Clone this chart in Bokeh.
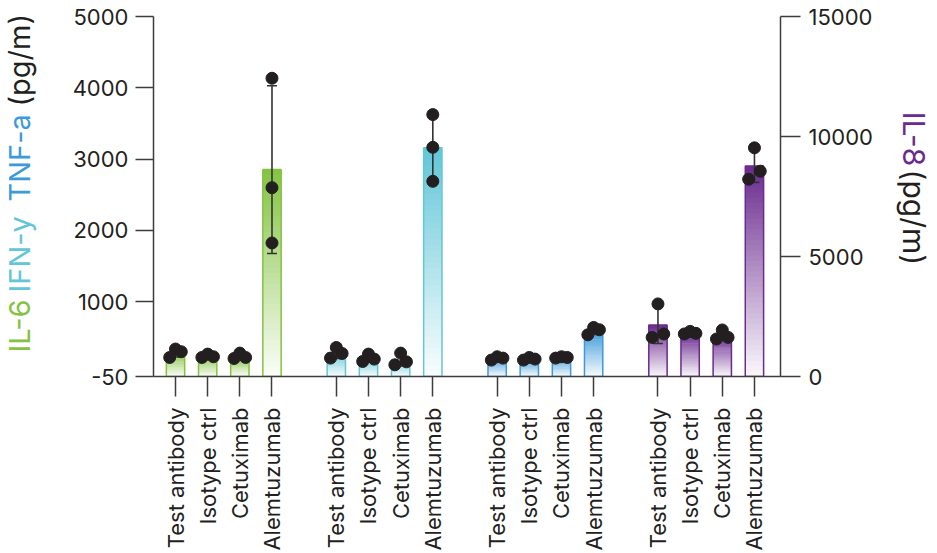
import numpy as np
from math import pi
from bokeh.plotting import figure
from bokeh.layouts import row
from bokeh.models import Range1d, LinearAxis, FixedTicker
from bokeh.core.properties import value
from bokeh.embed import file_html
from bokeh.resources import INLINE

# ---------------- data ----------------
treatments = ["Test antibody", "Isotype ctrl", "Cetuximab", "Alemtuzumab"]
cytokines = ["IL-6", "IFN-y", "TNF-a", "IL-8"]
il6 = [[217, 335, 297], [217, 264, 227], [203, 278, 217], [4134, 2599, 1823]]
ifng = [[208, 357, 273], [161, 264, 194], [114, 278, 156], [3624, 3165, 2688]]
tnfa = [[180, 227, 208], [180, 217, 194], [208, 227, 217], [535, 638, 606]]
il8 = [[1630, 3025, 1772], [1772, 1880, 1797], [1563, 1939, 1630], [8220, 9528, 8554]]
left_ticks = [-50, 1000, 2000, 3000, 4000, 5000]
right_ticks = [0, 5000, 10000, 15000]
unit_text = "(pg/m)"

series = [il6, ifng, tnfa, il8]
colors = ["#84C341", "#62C6D8", "#3D9AD9", "#6A2A8E"]
on_right = [False, False, False, True]
INK = "#231F20"
AX = "#3C3C3C"
FONT = "Inter"

left_range = (-50, 5000)
right_range = (0, 15000)
FRAME_W, FRAME_H = 627, 360
STRIP_H = 520
LEFT_W, RIGHT_W = 40, 57

p = figure(frame_width=FRAME_W, frame_height=FRAME_H,
           x_range=Range1d(0.316, 19.81), y_range=Range1d(*left_range),
           output_backend="svg", toolbar_location=None,
           min_border_left=113, min_border_right=100,
           min_border_top=16, min_border_bottom=170)
p.extra_y_ranges = {"right": Range1d(*right_range)}
p.xgrid.visible = False
p.ygrid.visible = False
p.outline_line_color = None
p.background_fill_color = "white"
p.border_fill_color = "white"


def blend(hexcol, a):
    h = hexcol.lstrip("#")
    r, g, b = int(h[0:2], 16), int(h[2:4], 16), int(h[4:6], 16)
    r = round(255 * (1 - a) + r * a)
    g = round(255 * (1 - a) + g * a)
    b = round(255 * (1 - a) + b * a)
    return "#%02x%02x%02x" % (r, g, b)


positions = []
labels = {}
N = 40
for gi, (data, col, right) in enumerate(zip(series, colors, on_right)):
    rng_name = "right" if right else "default"
    rng = right_range if right else left_range
    base = rng[0]
    px_per_unit = FRAME_H / (rng[1] - rng[0])
    sl, sr, sb, st, sc = [], [], [], [], []
    ol, orr, ob, ot = [], [], [], []
    ex, ey0, ey1 = [], [], []
    cx0, cx1, cy = [], [], []
    dx, dy = [], []
    for j, vals in enumerate(data):
        x = gi * 5 + j + 1
        positions.append(x)
        labels[x] = treatments[j]
        arr = np.array(vals, dtype=float)
        mean = arr.mean()
        sd = arr.std(ddof=1)
        hw = 0.285
        # gradient slices
        for k in range(N):
            b = base + (mean - base) * k / N
            t = base + (mean - base) * (k + 1.6) / N
            t = min(t, mean)
            a = 0.03 + 0.97 * (k + 0.5) / N
            sl.append(x - hw); sr.append(x + hw); sb.append(b); st.append(t)
            sc.append(blend(col, a))
        ol.append(x - hw); orr.append(x + hw); ob.append(base); ot.append(mean)
        # error bar (mean +/- SD)
        ex.append(x); ey0.append(mean - sd); ey1.append(mean + sd)
        for yy in (mean - sd, mean + sd):
            cx0.append(x - 0.155); cx1.append(x + 0.155); cy.append(yy)
        # dots: spread horizontally when they overlap
        pix = arr * px_per_unit
        close = any(abs(pix[a_] - pix[b_]) < 12 for a_ in range(3) for b_ in range(a_ + 1, 3))
        spread = 0.18 if close else 0.0
        for k, v in enumerate(vals):
            dx.append(x + (k - 1) * spread)
            dy.append(v)
    p.quad(left=sl, right=sr, bottom=sb, top=st, fill_color=sc, line_color=None,
           y_range_name=rng_name)
    p.quad(left=ol, right=orr, bottom=ob, top=ot, fill_color=None, line_color=col,
           line_width=1.5, y_range_name=rng_name)
    p.segment(x0=ex, y0=ey0, x1=ex, y1=ey1, line_color="#333333", line_width=1.6,
              y_range_name=rng_name)
    p.segment(x0=cx0, y0=cy, x1=cx1, y1=cy, line_color="#333333", line_width=1.6,
              y_range_name=rng_name)
    p.scatter(x=dx, y=dy, size=12, fill_color=INK, line_color=INK,
              y_range_name=rng_name)


def style_axis(ax, tick_out):
    ax.axis_line_color = AX
    ax.axis_line_width = 1.5
    ax.major_tick_line_color = AX
    ax.major_tick_line_width = 1.5
    ax.major_tick_out = tick_out
    ax.major_tick_in = 0
    ax.minor_tick_line_color = None
    ax.minor_tick_out = 0
    ax.major_label_text_font = FONT
    ax.major_label_text_font_size = "22px"
    ax.major_label_text_color = INK


# left axis
p.yaxis.ticker = FixedTicker(ticks=left_ticks)
p.yaxis.major_label_overrides = {t: str(t) for t in left_ticks}
style_axis(p.yaxis[0], 18)
p.yaxis.major_label_standoff = 7

# right axis
rax = LinearAxis(y_range_name="right", ticker=FixedTicker(ticks=right_ticks))
style_axis(rax, 20)
rax.major_label_standoff = 8
p.add_layout(rax, "right")

# bottom axis
p.xaxis.ticker = FixedTicker(ticks=positions)
p.xaxis.major_label_overrides = labels
p.xaxis.major_label_orientation = pi / 2
style_axis(p.xaxis[0], 20)
p.xaxis.major_label_standoff = 11


# side strips carrying the multi-coloured axis titles (pixel coordinates, y from top)
def strip(width):
    f = figure(frame_width=width, frame_height=STRIP_H, x_range=Range1d(0, width),
               y_range=Range1d(STRIP_H, 0), output_backend="svg",
               toolbar_location=None, x_axis_type=None, y_axis_type=None,
               min_border_left=0, min_border_right=0, min_border_top=0,
               min_border_bottom=0)
    f.title.visible = False
    f.xgrid.visible = False
    f.ygrid.visible = False
    f.outline_line_color = None
    f.background_fill_color = "white"
    f.border_fill_color = "white"
    return f


tl = strip(LEFT_W)
tl.text(x=[19, 19, 19, 19], y=[336, 276, 185, 90],
        text=[cytokines[0], cytokines[1], cytokines[2], unit_text],
        text_color=[colors[0], colors[1], colors[2], INK],
        angle=pi / 2, text_align="left", text_baseline="middle",
        text_font=value(FONT), text_font_size=value("29px"))

tr = strip(RIGHT_W)
tr.text(x=[33, 33], y=[95, 153], text=[cytokines[3], unit_text],
        text_color=[colors[3], INK],
        angle=-pi / 2, text_align="left", text_baseline="middle",
        text_font=value(FONT), text_font_size=value("30px"))

layout = row(tl, p, tr, spacing=0)
open("out.html", "w").write(file_html(layout, INLINE))
